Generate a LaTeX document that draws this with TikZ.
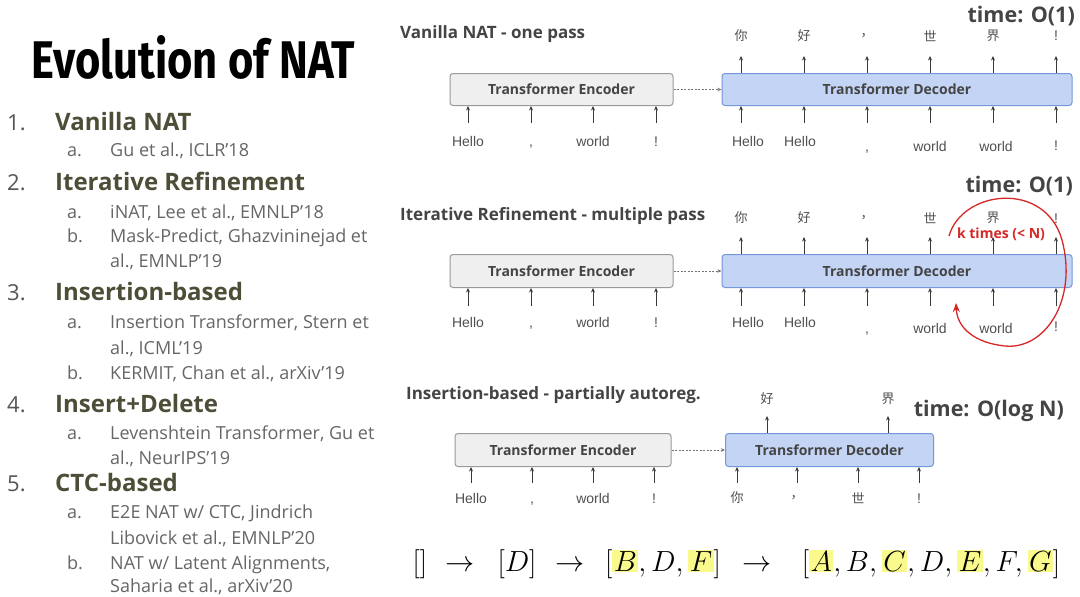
\documentclass[tikz,border=0pt]{standalone}
\usepackage{fontspec}
\setmainfont{Open Sans}
\newfontfamily\fira{Fira Sans}
\newfontfamily\lib{Liberation Sans}
\newfontfamily\cjk{Noto Sans CJK SC}
\usetikzlibrary{arrows.meta}
\definecolor{encf}{HTML}{EFEFEF}
\definecolor{encb}{HTML}{9A9A9A}
\definecolor{decf}{HTML}{C4D4F5}
\definecolor{decb}{HTML}{7596DA}
\definecolor{boxt}{HTML}{444444}
\definecolor{headc}{HTML}{4E4E38}
\definecolor{subc}{HTML}{666666}
\definecolor{numc}{HTML}{555555}
\definecolor{lblc}{HTML}{505050}
\definecolor{arrc}{HTML}{3A3A3A}
\definecolor{loopc}{HTML}{D42828}
\definecolor{hlc}{HTML}{FAFA8C}
\newcommand\hlbox[1]{{\setlength{\fboxsep}{1.2pt}\colorbox{hlc}{$#1$}}}
\newcommand\bigmath[1]{\scalebox{1.17}{\fontsize{24.88}{28}\selectfont$#1$}}
\tikzset{
  encbox/.style={draw=encb, fill=encf, rounded corners=3pt, line width=1pt, inner sep=0pt,
    font=\bfseries\fontsize{14}{16}\selectfont, text=boxt},
  decbox/.style={draw=decb, fill=decf, rounded corners=3pt, line width=1pt, inner sep=0pt,
    font=\bfseries\fontsize{14}{16}\selectfont, text=boxt},
  arr/.style={draw=arrc, line width=0.8pt, -{Stealth[length=4.5pt,width=4pt]}},
  dasharr/.style={draw=arrc!70, line width=0.7pt, dash pattern=on 2pt off 1.5pt, -{Stealth[length=4pt,width=3.5pt]}},
  lbl/.style={anchor=base, inner sep=0pt, font=\lib\fontsize{14}{16}\selectfont, text=lblc},
  zh/.style={inner sep=0pt, font=\cjk\fontsize{13}{15}\selectfont, text=lblc},
  head/.style={anchor=base west, inner sep=0pt, font=\bfseries\fontsize{24}{28}\selectfont, text=headc},
  num/.style={anchor=base west, inner sep=0pt, font=\fontsize{22}{26}\selectfont, text=numc},
  subl/.style={anchor=base west, inner sep=0pt, font=\fontsize{18}{21}\selectfont, text=subc},
  sect/.style={anchor=base west, inner sep=0pt, font=\bfseries\fontsize{17}{20}\selectfont, text=boxt},
  timel/.style={anchor=base east, inner sep=0pt, font=\bfseries\fontsize{21.5}{25}\selectfont, text=boxt},
  mathl/.style={anchor=base, inner sep=0pt},
}
\begin{document}
\begin{tikzpicture}[x=1pt,y=-1pt]
\useasboundingbox[fill=white] (0,0) rectangle (1080,597);

% ---------- left column ----------
\node[anchor=base west, inner sep=0pt] (title) at (31,78)
  {\scalebox{0.82}[1]{\fira\bfseries\fontsize{53}{60}\selectfont Evolution of NAT}};

\node[num] (n1) at (7,130) {1.};
\node[head] (h1) at (55,130) {Vanilla NAT};
\node[subl] (s1a) at (67,156.5) {a.};
\node[subl] (t1a) at (110,156.5) {Gu et al., ICLR’18};

\node[num] (n2) at (7,190) {2.};
\node[head] (h2) at (55,190) {Iterative Refinement};
\node[subl] (s2a) at (67,218) {a.};
\node[subl] (t2a) at (110,218) {iNAT, Lee et al., EMNLP’18};
\node[subl] (s2b) at (67,242) {b.};
\node[subl] (t2b) at (110,242) {Mask-Predict, Ghazvininejad et};
\node[subl] (t2b2) at (110,267) {al., EMNLP’19};

\node[num] (n3) at (7,300) {3.};
\node[head] (h3) at (55,300) {Insertion-based};
\node[subl] (s3a) at (67,328) {a.};
\node[subl] (t3a) at (110,328) {Insertion Transformer, Stern et};
\node[subl] (t3a2) at (110,354) {al., ICML’19};
\node[subl] (s3b) at (67,379) {b.};
\node[subl] (t3b) at (110,379) {KERMIT, Chan et al., arXiv’19};

\node[num] (n4) at (7,412.5) {4.};
\node[head] (h4) at (55,412.5) {Insert+Delete};
\node[subl] (s4a) at (67,439) {a.};
\node[subl] (t4a) at (110,439) {Levenshtein Transformer, Gu et};
\node[subl] (t4a2) at (110,464) {al., NeurIPS’19};

\node[num] (n5) at (7,491) {5.};
\node[head] (h5) at (55,491) {CTC-based};
\node[subl] (s5a) at (67,518) {a.};
\node[subl] (t5a) at (110,518) {E2E NAT w/ CTC, Jindrich};
\node[subl] (t5a2) at (110,544) {Libovick et al., EMNLP’20};
\node[subl] (s5b) at (67,569.5) {b.};
\node[subl] (t5b) at (110,569.5) {NAT w/ Latent Alignments,};
\node[subl] (t5b2) at (110,592.5) {Saharia et al., arXiv’20};

% ---------- section 1 ----------
\node[sect] (sec1) at (400,38) {Vanilla NAT - one pass};
\node[timel] (time1) at (1075,23) {time: O(1)};
\node[encbox, minimum width=223pt, minimum height=32pt] (enc1) at (561.5,89.5) {Transformer Encoder};
\node[decbox, minimum width=350pt, minimum height=32pt] (dec1) at (897,89.5) {Transformer Decoder};
\draw[dasharr] (enc1) -- (dec1);
\foreach \x [count=\i] in {468,531,593,656} {
  \coordinate (e1in\i) at (\x,123);
  \draw[arr] (e1in\i) -- (e1in\i |- enc1.south);
}
\foreach \x [count=\i] in {741,804,867,930,993,1056} {
  \coordinate (d1in\i) at (\x,123);
  \coordinate (d1out\i) at (\x,56);
  \draw[arr] (d1in\i) -- (d1in\i |- dec1.south);
  \draw[arr] (d1out\i |- dec1.north) -- (d1out\i);
}
\node[lbl] (l1a) at (468,146) {Hello};
\node[lbl] (l1b) at (531,146) {,};
\node[lbl] (l1c) at (593,146) {world};
\node[lbl] (l1d) at (656,146) {!};
\node[lbl] (l1e) at (748,146) {Hello};
\node[lbl] (l1f) at (800,146) {Hello};
\node[lbl] (l1g) at (867,151) {,};
\node[lbl] (l1h) at (930,151) {world};
\node[lbl] (l1i) at (996,151) {world};
\node[lbl] (l1j) at (1056,150) {!};
\node[zh] (z1a) at (741,36) {你};
\node[zh] (z1b) at (804,36) {好};
\node[zh] (z1c) at (867,36) {，};
\node[zh] (z1d) at (930,36) {世};
\node[zh] (z1e) at (993,36) {界};
\node[lbl] (z1f) at (1056,41) {!};

% ---------- section 2 ----------
\node[sect] (sec2) at (400,220.5) {Iterative Refinement - multiple pass};
\node[timel] (time2) at (1073,192) {time: O(1)};
\node[encbox, minimum width=223pt, minimum height=33pt] (enc2) at (561.5,271) {Transformer Encoder};
\node[decbox, minimum width=350pt, minimum height=33pt] (dec2) at (897,271) {Transformer Decoder};
\draw[dasharr] (enc2) -- (dec2);
\foreach \x [count=\i] in {468,531,593,656} {
  \coordinate (e2in\i) at (\x,306);
  \draw[arr] (e2in\i) -- (e2in\i |- enc2.south);
}
\foreach \x [count=\i] in {741,804,867,930,993,1056} {
  \coordinate (d2in\i) at (\x,306);
  \coordinate (d2out\i) at (\x,237);
  \draw[arr] (d2in\i) -- (d2in\i |- dec2.south);
  \draw[arr] (d2out\i |- dec2.north) -- (d2out\i);
}
\node[lbl] (l2a) at (468,327) {Hello};
\node[lbl] (l2b) at (531,327) {,};
\node[lbl] (l2c) at (593,327) {world};
\node[lbl] (l2d) at (656,327) {!};
\node[lbl] (l2e) at (748,327) {Hello};
\node[lbl] (l2f) at (800,327) {Hello};
\node[lbl] (l2g) at (867,333) {,};
\node[lbl] (l2h) at (930,333) {world};
\node[lbl] (l2i) at (996,333) {world};
\node[lbl] (l2j) at (1056,331) {!};
\node[zh] (z2a) at (741,218) {你};
\node[zh] (z2b) at (804,218) {好};
\node[zh] (z2c) at (867,218) {，};
\node[zh] (z2d) at (930,218) {世};
\node[zh] (z2e) at (993,218) {界};
\node[lbl] (z2f) at (1056,223) {!};
\coordinate (kstart) at (949,236);
\coordinate (kend) at (956,303);
\draw[draw=loopc, line width=1.3pt, -{Stealth[length=9pt,width=7pt]}]
  (kstart) .. controls (962,190) and (1045,180) .. (1062,240)
  .. controls (1078,300) and (1045,350) .. (1005,346)
  .. controls (975,343) and (957,328) .. (kend);
\node[inner sep=1pt, font=\bfseries\fontsize{14}{16}\selectfont, text=loopc] (ktimes) at (1001,234) {k times (< N)};

% ---------- section 3 ----------
\node[sect] (sec3) at (406,399.5) {Insertion-based - partially autoreg.};
\node[timel] (time3) at (1064,416) {time: O(log N)};
\node[encbox, minimum width=216pt, minimum height=33pt] (enc3) at (563,450) {Transformer Encoder};
\node[decbox, minimum width=208pt, minimum height=33pt] (dec3) at (829.5,450) {Transformer Decoder};
\draw[dasharr] (enc3) -- (dec3);
\foreach \x [count=\i] in {471,532,593,654} {
  \coordinate (e3in\i) at (\x,483);
  \draw[arr] (e3in\i) -- (e3in\i |- enc3.south);
}
\foreach \x [count=\i] in {737,797,858,919} {
  \coordinate (d3in\i) at (\x,483);
  \draw[arr] (d3in\i) -- (d3in\i |- dec3.south);
}
\foreach \x [count=\i] in {767,888} {
  \coordinate (d3out\i) at (\x,416);
  \draw[arr] (d3out\i |- dec3.north) -- (d3out\i);
}
\node[lbl] (l3a) at (471,503) {Hello};
\node[lbl] (l3b) at (532,503) {,};
\node[lbl] (l3c) at (593,503) {world};
\node[lbl] (l3d) at (654,503) {!};
\node[zh] (l3e) at (737,498) {你};
\node[zh] (l3f) at (797,498) {，};
\node[zh] (l3g) at (858,498) {世};
\node[lbl] (l3h) at (919,503) {!};
\node[zh] (z3a) at (767,399) {好};
\node[zh] (z3b) at (888,399) {界};

% ---------- math sequence ----------
\node[mathl] (m1) at (420,571) {\bigmath{[]}};
\node[mathl] (a1) at (460,571) {\bigmath{\rightarrow}};
\node[mathl] (m2) at (517,571) {\bigmath{[D]}};
\node[mathl] (a2) at (570,571) {\bigmath{\rightarrow}};
\node[mathl] (m3) at (663,571) {\bigmath{[\hlbox{B},D,\hlbox{F}]}};
\node[mathl] (a3) at (757,571) {\bigmath{\rightarrow}};
\node[mathl] (m4) at (931,571) {\bigmath{[\hlbox{A},B,\hlbox{C},D,\hlbox{E},F,\hlbox{G}]}};
\end{tikzpicture}
\end{document}
